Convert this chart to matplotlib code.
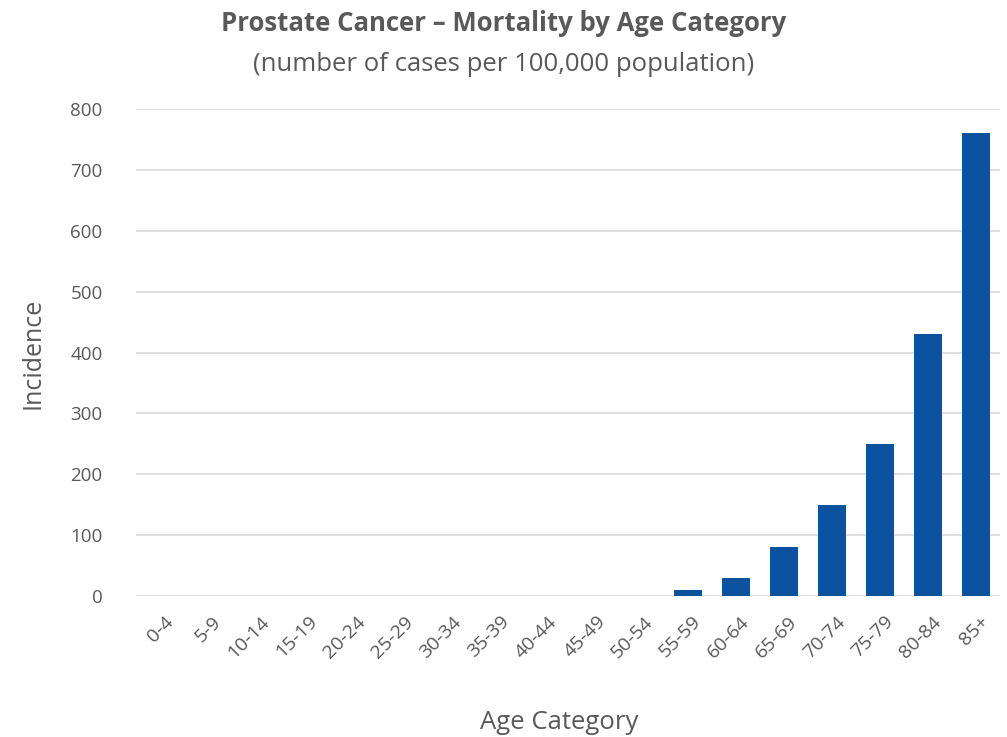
import matplotlib.pyplot as plt
from matplotlib.transforms import ScaledTranslation

CATEGORIES = ['0-4', '5-9', '10-14', '15-19', '20-24', '25-29', '30-34', '35-39',
              '40-44', '45-49', '50-54', '55-59', '60-64', '65-69', '70-74',
              '75-79', '80-84', '85+']
INCIDENCE = [0, 0, 0, 0, 0, 0, 0, 0, 0, 0, 0, 10, 30, 80, 150, 250, 430, 760]
Y_TICKS = [0, 100, 200, 300, 400, 500, 600, 700, 800]

TEXT = '#595959'
BAR = '#0a529d'
GRID = '#d9d9d9'

plt.rcParams['font.family'] = ['Open Sans', 'DejaVu Sans']

fig = plt.figure(figsize=(10.07, 7.37), dpi=100)
ax = fig.add_axes([0.135, 0.1913, 0.858, 0.6607])

x = range(len(CATEGORIES))
ax.bar(x, INCIDENCE, width=0.59, color=BAR, zorder=3)

ax.set_xlim(-0.5, len(CATEGORIES) - 0.5)
ax.set_ylim(0, 800)
ax.set_yticks(Y_TICKS)
ax.set_yticklabels([str(v) for v in Y_TICKS], fontsize=13.5, color=TEXT)
ax.set_xticks(list(x))
ax.set_xticklabels(CATEGORIES, rotation=45, ha='right', va='top',
                   rotation_mode='anchor', fontsize=14, color=TEXT)
ax.tick_params(axis='y', length=0, pad=24)
ax.tick_params(axis='x', length=0, pad=12)
# nudge the rotated labels a little right, like the original
shift = ScaledTranslation(3 / 72, 0, fig.dpi_scale_trans)
for lbl in ax.get_xticklabels():
    lbl.set_transform(lbl.get_transform() + shift)
ax.grid(axis='y', color=GRID, linewidth=1.2, zorder=0)
for s in ax.spines.values():
    s.set_visible(False)

fig.text(0.5, 0.968, 'Prostate Cancer \u2013 Mortality by Age Category',
         ha='center', va='center', fontsize=18.5, fontweight='bold', color=TEXT)
fig.text(0.5, 0.913, '(number of cases per 100,000 population)',
         ha='center', va='center', fontsize=18.5, color=TEXT)
fig.text(0.033, 0.52, 'Incidence', rotation=90, ha='center', va='center',
         fontsize=18, color=TEXT)
fig.text(0.555, 0.02, 'Age Category', ha='center', va='center',
         fontsize=18.5, color=TEXT)

fig.savefig('out.png', dpi=100)
